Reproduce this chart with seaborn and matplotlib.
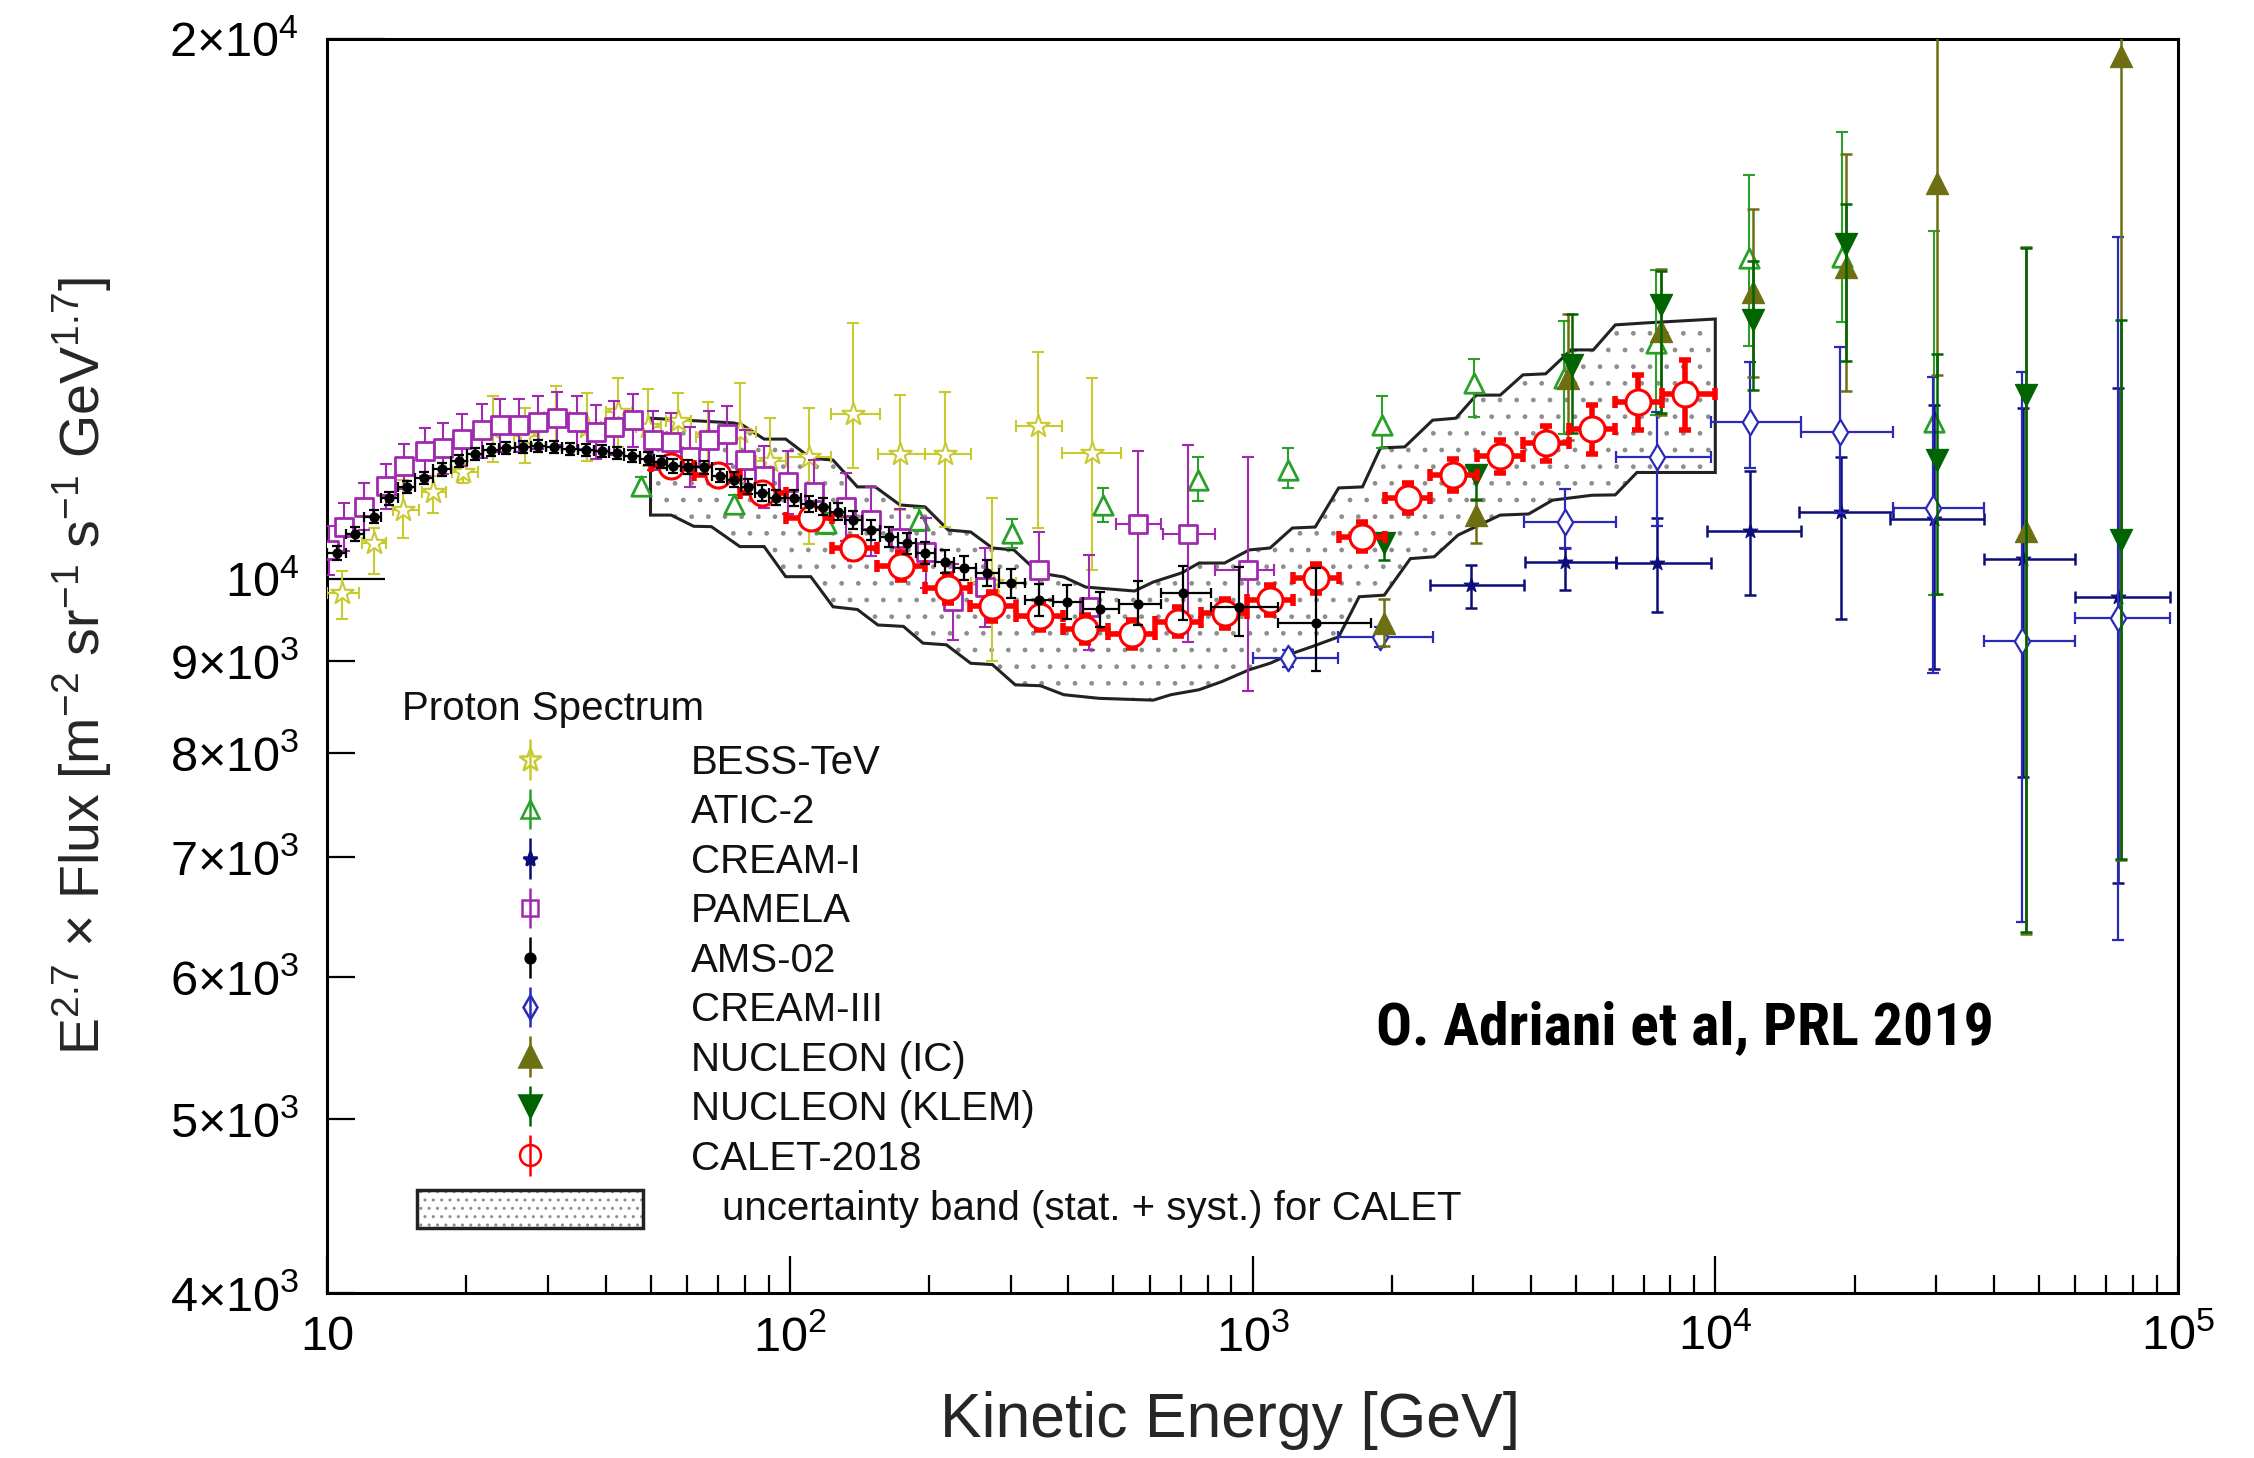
import numpy as np
import pandas as pd
import matplotlib
matplotlib.use("Agg")
import matplotlib.pyplot as plt
import seaborn as sns
from matplotlib.patches import Polygon, Rectangle
from matplotlib.ticker import FixedLocator, FixedFormatter
from matplotlib import font_manager

# ---------------- data ----------------
# AMS-02
ams_E = [10.5, 11.5, 12.6, 13.6, 14.85, 16.2, 17.7, 19.3, 20.9, 22.6, 24.4, 26.5, 28.6, 30.9, 33.5, 36.2,
         39.2, 42.3, 45.5, 49.4, 52.6, 55.9, 60.3, 65.1, 70.5, 75.6, 81.2, 87.2, 93.4, 102, 110, 118, 127,
         137, 150, 164, 179, 196, 216, 238, 267, 300, 345, 398, 467, 566, 709, 934, 1374]
ams_F = [10340, 10595, 10830, 11090, 11250, 11380, 11510, 11630, 11740, 11800, 11830, 11850, 11860, 11850,
         11820, 11800, 11780, 11750, 11710, 11670, 11620, 11560, 11550, 11540, 11420, 11360, 11260, 11170,
         11100, 11100, 11010, 10970, 10900, 10790, 10650, 10560, 10470, 10335, 10225, 10145, 10080, 9945,
         9735, 9715, 9620, 9690, 9820, 9650, 9447]
ams_dlo = [90, 90, 90, 90, 90, 90, 90, 90, 90, 90, 90, 90, 90, 90, 90, 90, 90, 90, 90, 95, 95, 100, 100,
           100, 100, 105, 105, 110, 110, 115, 115, 120, 120, 125, 130, 135, 140, 145, 150, 160, 170, 180,
           200, 210, 220, 260, 330, 350, 560]
ams_dhi = [90, 90, 90, 90, 90, 90, 90, 90, 90, 90, 90, 90, 90, 90, 90, 90, 90, 90, 90, 95, 95, 100, 100,
           100, 100, 105, 105, 110, 110, 115, 115, 120, 120, 125, 130, 135, 140, 145, 150, 160, 170, 180,
           200, 210, 220, 280, 350, 500, 700]

# CALET-2018
cal_E = [55.4, 69.9, 87.2, 110.9, 137, 174, 220, 274, 348, 435, 548, 691, 870, 1092, 1373, 1724, 2163,
         2713, 3428, 4302, 5420, 6823, 8604]
cal_F = [11560, 11430, 11160, 10810, 10405, 10170, 9880, 9660, 9537, 9376, 9318, 9466, 9570, 9735, 10010,
         10560, 11100, 11430, 11710, 11900, 12120, 12550, 12680]
cal_dF = [100, 100, 100, 110, 150, 185, 180, 180, 170, 170, 170, 175, 180, 185, 190, 200, 210, 230, 250,
          270, 375, 450, 570]

# CALET uncertainty band
band_up_E = [50, 75.6, 79, 88, 98, 111, 124, 140, 153, 173, 196, 220, 246, 274, 305, 345, 391, 436, 556,
             610, 703, 766, 870, 983, 1091, 1219, 1366, 1535, 1728, 1890, 2133, 2450, 2750, 3044, 3430,
             3840, 4300, 4880, 5450, 6080, 7060, 10000]
band_up_F = [12292, 12218, 12185, 11967, 11967, 11678, 11649, 11255, 11255, 10997, 10970, 10649, 10622,
             10406, 10380, 10079, 10026, 9897, 9847, 9961, 10079, 10207, 10207, 10380, 10406, 10676, 10690,
             11240, 11255, 11832, 11848, 12261, 12292, 12662, 12662, 12995, 13013, 13418, 13418, 13856,
             13891, 13961]
band_lo_E = [50, 55.4, 62, 67.7, 78, 88, 98, 111, 124, 140, 155, 176, 194, 218, 246, 274, 307, 348, 391,
             466, 610, 666, 766, 857, 983, 1091, 1219, 1346, 1535, 1700, 1926, 2193, 2470, 2780, 3430,
             3950, 4450, 5415, 6080, 6770, 10000]
band_lo_F = [10855, 10855, 10700, 10695, 10425, 10425, 10030, 10030, 9650, 9616, 9427, 9410, 9210, 9190,
             8975, 8960, 8730, 8720, 8620, 8580, 8560, 8620, 8675, 8765, 8900, 8975, 9090, 9170, 9285,
             9775, 9795, 10265, 10290, 10580, 10855, 10870, 11065, 11135, 11140, 11465, 11465]

# PAMELA
pam_E = [10.1, 10.9, 12.0, 13.4, 14.7, 16.3, 17.8, 19.6, 21.6, 23.6, 26.0, 28.6, 31.4, 34.6, 38.1, 41.7,
         45.9, 50.7, 55.4, 61.0, 67.0, 73.0, 80.0, 88.0, 98.9, 113, 132, 150, 173, 197, 225, 264, 346,
         444, 565, 725, 980]
pam_F = [10380, 10695, 10975, 11265, 11560, 11780, 11830, 11965, 12105, 12185, 12185, 12235, 12290, 12235,
         12080, 12150, 12260, 11950, 11920, 11700, 11960, 12040, 11650, 11410, 11330, 11180, 10975, 10780,
         10535, 10350, 9720, 9900, 10120, 9650, 10730, 10600, 10110]
pam_dhi = [330, 330, 330, 330, 330, 360, 380, 400, 420, 420, 420, 420, 420, 420, 420, 420, 420, 450, 450,
           450, 450, 450, 450, 450, 460, 470, 480, 480, 400, 470, 470, 500, 507, 660, 1050, 1275, 1580]
pam_dlo = [330, 330, 330, 330, 330, 360, 380, 400, 420, 420, 420, 420, 420, 420, 420, 420, 420, 450, 450,
           450, 450, 450, 450, 450, 460, 470, 480, 480, 400, 470, 470, 500, 500, 520, 1480, 1375, 1450]
pam_xlo = [0, 0, 0, 0, 0, 0, 0, 0, 0, 0, 0, 0, 0, 0, 0, 0, 0, 0, 0, 0, 0, 0, 0, 0, 0, 0, 0, 0, 0, 0, 0,
           0, 0, 0, 506, 640, 830]
pam_xhi = [0, 0, 0, 0, 0, 0, 0, 0, 0, 0, 0, 0, 0, 0, 0, 0, 0, 0, 0, 0, 0, 0, 0, 0, 0, 0, 0, 0, 0, 0, 0,
           0, 0, 0, 635, 830, 1110]

# BESS-TeV
bess_E = [10.75, 12.6, 14.6, 16.9, 19.7, 22.8, 26.8, 31.3, 36.4, 42.6, 49.4, 57.4, 66.7, 78, 90.6, 110,
          137, 173, 217, 274, 344, 450]
bess_F = [9817, 10470, 10930, 11185, 11470, 12120, 12020, 12315, 12150, 12395, 12160, 12250, 12000, 12070,
          11640, 11700, 12360, 11740, 11740, 9950, 12170, 11760]
bess_dhi = [290, 200, 430, 225, 160, 530, 440, 500, 550, 550, 600, 450, 550, 790, 650, 750, 1530, 925,
            980, 1150, 1215, 1180]
bess_dlo = [320, 400, 390, 295, 160, 500, 420, 500, 520, 550, 600, 400, 500, 740, 650, 1240, 830, 810,
            1045, 950, 1500, 1640]
bess_xlo = [10.0, 11.9, 13.9, 16.0, 18.6, 21.5, 25.3, 29.5, 34.3, 40.1, 46.5, 54.0, 62.8, 72.5, 84.5, 98,
            123, 155, 196, 246, 308, 388]
bess_xhi = [11.7, 13.4, 15.8, 18.1, 21.2, 24.4, 28.7, 33.5, 39.0, 45.6, 52.8, 61.3, 71.3, 84.5, 98, 123,
            157, 196, 246, 308, 388, 520]

# ATIC-2
atic_E = [47.6, 75.7, 120, 190.6, 302, 476, 761, 1195, 1900, 3010, 4700, 7460, 11815, 18810, 29720]
atic_F = [11265, 11010, 10740, 10790, 10605, 10995, 11360, 11505, 12185, 12855, 12940, 13535, 15100,
          15120, 12235]
atic_dhi = [130, 130, 140, 160, 200, 240, 340, 320, 465, 415, 990, 1340, 1700, 2620, 3400]
atic_dlo = [130, 130, 140, 160, 200, 240, 310, 265, 355, 550, 900, 1200, 1610, 1205, 2435]

# CREAM-I
c1_E = [2960, 4745, 7500, 11900, 18700, 29700, 46200, 74100]
c1_F = [9925, 10225, 10210, 10640, 10900, 10805, 10260, 9772]
c1_dhi = [255, 175, 600, 850, 800, 1700, 2200, 3000]
c1_dlo = [285, 365, 620, 840, 1400, 1900, 2500, 3000]
c1_xlo = [2420, 3870, 6100, 9600, 15200, 23900, 38000, 60000]
c1_xhi = [3860, 6100, 9790, 15300, 24200, 38000, 60000, 96000]

# CREAM-III
c3_E = [1195, 1890, 4745, 7500, 11870, 18600, 29500, 46000, 74000]
c3_F = [9033, 9280, 10760, 11690, 12230, 12080, 10960, 9240, 9510]
c3_dhi = [100, 120, 470, 700, 990, 1390, 2000, 3800, 6000]
c3_dlo = [100, 120, 360, 990, 700, 1200, 2100, 2800, 3220]
c3_xlo = [1000, 1530, 3860, 6100, 9790, 15300, 24200, 38000, 60000]
c3_xhi = [1530, 2450, 6100, 9790, 15300, 24200, 38000, 60000, 96000]

# NUCLEON (IC)
ic_E = [1926, 3045, 4800, 7650, 12080, 19150, 30100, 47000, 75400]
ic_F = [9446, 10855, 12950, 13740, 14450, 14920, 16620, 10630, 19570]
ic_dhi = [300, 230, 1100, 1140, 1620, 2330, 5000, 4680, 3000]
ic_dlo = [270, 380, 1000, 1400, 1490, 2190, 3620, 4290, 12600]

# NUCLEON (KLEM)
kl_E = [1926, 3045, 4900, 7650, 12080, 19150, 30100, 47000, 75400]
kl_F = [10470, 11430, 13160, 14210, 13940, 15380, 11655, 12660, 10510]
kl_dhi = [130, 115, 900, 640, 1100, 800, 1700, 2640, 3430]
kl_dlo = [220, 365, 1100, 1840, 1200, 2150, 1850, 6300, 3530]

y_tick_vals = [4000, 5000, 6000, 7000, 8000, 9000]
y_tick_labels = [r'$\mathregular{4{\times}10^{3}}$', r'$\mathregular{5{\times}10^{3}}$',
                 r'$\mathregular{6{\times}10^{3}}$', r'$\mathregular{7{\times}10^{3}}$',
                 r'$\mathregular{8{\times}10^{3}}$', r'$\mathregular{9{\times}10^{3}}$']
y_major_vals = [10000, 20000]
y_major_labels = [r'$\mathregular{10^{4}}$', r'$\mathregular{2{\times}10^{4}}$']
x_tick_vals = [10, 100, 1000, 10000, 100000]
x_tick_labels = ['10', r'$\mathregular{10^{2}}$', r'$\mathregular{10^{3}}$', r'$\mathregular{10^{4}}$',
                 r'$\mathregular{10^{5}}$']

# ---------------- style ----------------
sns.set_theme(style="ticks")
plt.rcParams['font.family'] = ['Liberation Sans', 'DejaVu Sans']
plt.rcParams['mathtext.fontset'] = 'custom'
plt.rcParams['mathtext.rm'] = 'Liberation Sans'
plt.rcParams['mathtext.it'] = 'Liberation Sans:italic'
plt.rcParams['mathtext.bf'] = 'Liberation Sans:bold'
plt.rcParams['hatch.linewidth'] = 1.0

C_BESS = '#c9c930'
C_ATIC = '#2aa02a'
C_C1 = '#0c0c7a'
C_PAM = '#a228b2'
C_AMS = '#000000'
C_C3 = '#2a2ab8'
C_IC = '#6e6e12'
C_KL = '#006400'
C_CAL = '#ff0000'
C_HATCH = '#8e8e8e'

fig = plt.figure(figsize=(22.54, 14.58), dpi=100)
fig.patch.set_facecolor('white')
ax = fig.add_axes([0.1451, 0.1132, 0.8212, 0.8601])
ax.set_facecolor('white')
ax.set_xscale('log')
ax.set_yscale('log')

# ---------------- band ----------------
verts = list(zip(band_up_E, band_up_F)) + list(zip(band_lo_E[::-1], band_lo_F[::-1]))
ax.add_patch(Polygon(verts, closed=True, facecolor='white', edgecolor=C_HATCH, hatch='.',
                     linewidth=0, zorder=1))
ax.add_patch(Polygon(verts, closed=True, facecolor='none', edgecolor='#222222', linewidth=2.2, zorder=1.5))


def edges_err(centers, first, last):
    c = np.asarray(centers, float)
    mids = np.sqrt(c[:-1] * c[1:])
    lo = np.concatenate([[first], mids])
    hi = np.concatenate([mids, [last]])
    return [c - lo, hi - c]


def draw(E, F, ylo, yhi, xerr, color, marker, ms, filled, z, elw=1.5, mlw=1.8, cap=4.5, capw=None):
    E = np.asarray(E, float)
    F = np.asarray(F, float)
    ax.errorbar(E, F, yerr=[ylo, yhi], xerr=xerr, fmt='none', ecolor=color, elinewidth=elw,
                capsize=cap, capthick=capw if capw else elw, zorder=z)
    df = pd.DataFrame({'E': E, 'F': F})
    kw = dict(marker=marker, s=ms ** 2, zorder=z + 0.1, legend=False, ax=ax)
    if filled:
        sns.scatterplot(data=df, x='E', y='F', color=color, edgecolor=color, linewidth=0.8, **kw)
    else:
        sns.scatterplot(data=df, x='E', y='F', color=color, facecolor='white', edgecolor=color,
                        linewidth=mlw, **kw)


bess_xerr = [np.asarray(bess_E) - np.asarray(bess_xlo), np.asarray(bess_xhi) - np.asarray(bess_E)]
draw(bess_E, bess_F, bess_dlo, bess_dhi, bess_xerr, C_BESS, '*', 17, False, 3.0, mlw=1.5)
draw(atic_E, atic_F, atic_dlo, atic_dhi, None, C_ATIC, '^', 14, False, 3.2, mlw=2.0)
c1_xerr = [np.asarray(c1_E) - np.asarray(c1_xlo), np.asarray(c1_xhi) - np.asarray(c1_E)]
draw(c1_E, c1_F, c1_dlo, c1_dhi, c1_xerr, C_C1, '*', 11, True, 3.4, elw=1.8)
pam_xerr = [np.asarray(pam_xlo, float), np.asarray(pam_xhi, float)]
pam_xerr = [np.where(pam_xerr[0] > 0, np.asarray(pam_E) - pam_xerr[0], 0),
            np.where(pam_xerr[1] > 0, pam_xerr[1] - np.asarray(pam_E), 0)]
draw(pam_E, pam_F, pam_dlo, pam_dhi, pam_xerr, C_PAM, 's', 13, False, 3.6, mlw=2.0)
c3_xerr = [np.asarray(c3_E) - np.asarray(c3_xlo), np.asarray(c3_xhi) - np.asarray(c3_E)]
draw(c3_E, c3_F, c3_dlo, c3_dhi, c3_xerr, C_C3, 'd', 13, False, 3.8, elw=1.6, mlw=1.6)
draw(ic_E, ic_F, ic_dlo, ic_dhi, None, C_IC, '^', 16, True, 4.0, elw=1.8)
draw(kl_E, kl_F, kl_dlo, kl_dhi, None, C_KL, 'v', 16, True, 4.2, elw=1.8)
draw(cal_E, cal_F, cal_dF, cal_dF, edges_err(cal_E, 50, 10000), C_CAL, 'o', 18, False, 5.0,
     elw=4.0, mlw=2.2, cap=4, capw=4.0)
draw(ams_E, ams_F, ams_dlo, ams_dhi, edges_err(ams_E, 10.0, 1800), C_AMS, 'o', 6.5, True, 6.0,
     elw=1.6, cap=3.5)

# ---------------- axes ----------------
ax.set_xlim(10, 1e5)
ax.set_ylim(4000, 20000)
ax.yaxis.set_major_locator(FixedLocator(y_major_vals))
ax.yaxis.set_major_formatter(FixedFormatter(y_major_labels))
ax.yaxis.set_minor_locator(FixedLocator(y_tick_vals))
ax.yaxis.set_minor_formatter(FixedFormatter(y_tick_labels))
ax.xaxis.set_major_locator(FixedLocator(x_tick_vals))
ax.xaxis.set_major_formatter(FixedFormatter(x_tick_labels))
ax.xaxis.set_minor_locator(matplotlib.ticker.LogLocator(base=10, subs=np.arange(2, 10)))
ax.xaxis.set_minor_formatter(matplotlib.ticker.NullFormatter())

ax.tick_params(axis='both', which='both', direction='in', top=False, right=False, colors='black',
               labelsize=35, width=1.6)
ax.tick_params(axis='y', which='major', length=42, pad=20)
ax.tick_params(axis='y', which='minor', length=20, pad=20)
ax.tick_params(axis='x', which='major', length=27, pad=16)
ax.tick_params(axis='x', which='minor', length=13)
for s in ax.spines.values():
    s.set_color('black')
    s.set_linewidth(2.2)

ax.set_xlabel('Kinetic Energy [GeV]', fontsize=45)
ax.xaxis.set_label_coords(0.488, -0.078)
ax.set_ylabel(r'E$^{2.7}$ $\times$ Flux [m$^{-2}$ sr$^{-1}$ s$^{-1}$ GeV$^{1.7}$]', fontsize=40)
ax.yaxis.set_label_coords(-0.115, 0.5)

# ---------------- legend ----------------
leg_specs = [('BESS-TeV', '*', C_BESS, False, 17), ('ATIC-2', '^', C_ATIC, False, 13),
             ('CREAM-I', '*', C_C1, True, 11), ('PAMELA', 's', C_PAM, False, 12),
             ('AMS-02', 'o', C_AMS, True, 7), ('CREAM-III', 'd', C_C3, False, 12),
             ('NUCLEON (IC)', '^', C_IC, True, 16), ('NUCLEON (KLEM)', 'v', C_KL, True, 16),
             ('CALET-2018', 'o', C_CAL, False, 15)]
handles = []
for lab, mk, col, filled, ms in leg_specs:
    h = ax.errorbar([np.nan], [np.nan], yerr=[1.0], fmt=mk, color=col, mfc=col if filled else 'none',
                    mec=col, ms=ms, mew=1.8, elinewidth=1.8, capsize=0, label=lab)
    handles.append(h)
leg = ax.legend(handles=handles, loc='upper left', bbox_to_anchor=(0.0719, 0.4380), frameon=False,
                fontsize=29, handlelength=3.45, handletextpad=2.28, labelspacing=0.285, borderpad=0,
                borderaxespad=0)
for t in leg.get_texts():
    t.set_color('#111111')

ax.text(0.0405, 0.4657, 'Proton Spectrum', transform=ax.transAxes, fontsize=29, ha='left', va='center',
        color='#111111')
ax.add_patch(Rectangle((0.0486, 0.0518), 0.1221, 0.0303, transform=ax.transAxes, facecolor='white',
                       edgecolor=C_HATCH, hatch='..', linewidth=0, zorder=7))
ax.add_patch(Rectangle((0.0486, 0.0518), 0.1221, 0.0303, transform=ax.transAxes, facecolor='none',
                       edgecolor='#222222', linewidth=2.5, zorder=7.5))
ax.text(0.2134, 0.067, 'uncertainty band (stat. + syst.) for CALET', transform=ax.transAxes, fontsize=29,
        ha='left', va='center', color='#111111')

# annotation with a condensed bold font
ttf = font_manager.fontManager.ttflist
avail = {f.name for f in ttf}
ann_fam, ann_stretch = None, 'normal'
for cand in ['Liberation Sans Narrow', 'Roboto Condensed', 'Noto Sans Condensed', 'Open Sans Condensed',
             'DejaVu Sans Condensed']:
    if cand in avail:
        ann_fam = cand
        break
if ann_fam is None:
    if any(f.name == 'DejaVu Sans' and str(f.stretch) in ('condensed', 'semi-condensed') for f in ttf):
        ann_fam, ann_stretch = 'DejaVu Sans', 'condensed'
    else:
        ann_fam = 'Roboto'
ann = ax.text(0.5667, 0.2113, 'O. Adriani et al, PRL 2019', transform=ax.transAxes, fontsize=50,
              fontweight='bold', family=[ann_fam, 'DejaVu Sans'], fontstretch=ann_stretch,
              ha='left', va='center', color='black', zorder=10)
fig.canvas.draw()
w = ann.get_window_extent(fig.canvas.get_renderer()).width
ann.set_fontsize(min(62, 50 * 619.0 / w))

fig.savefig('out.png', dpi=100, facecolor='white')
